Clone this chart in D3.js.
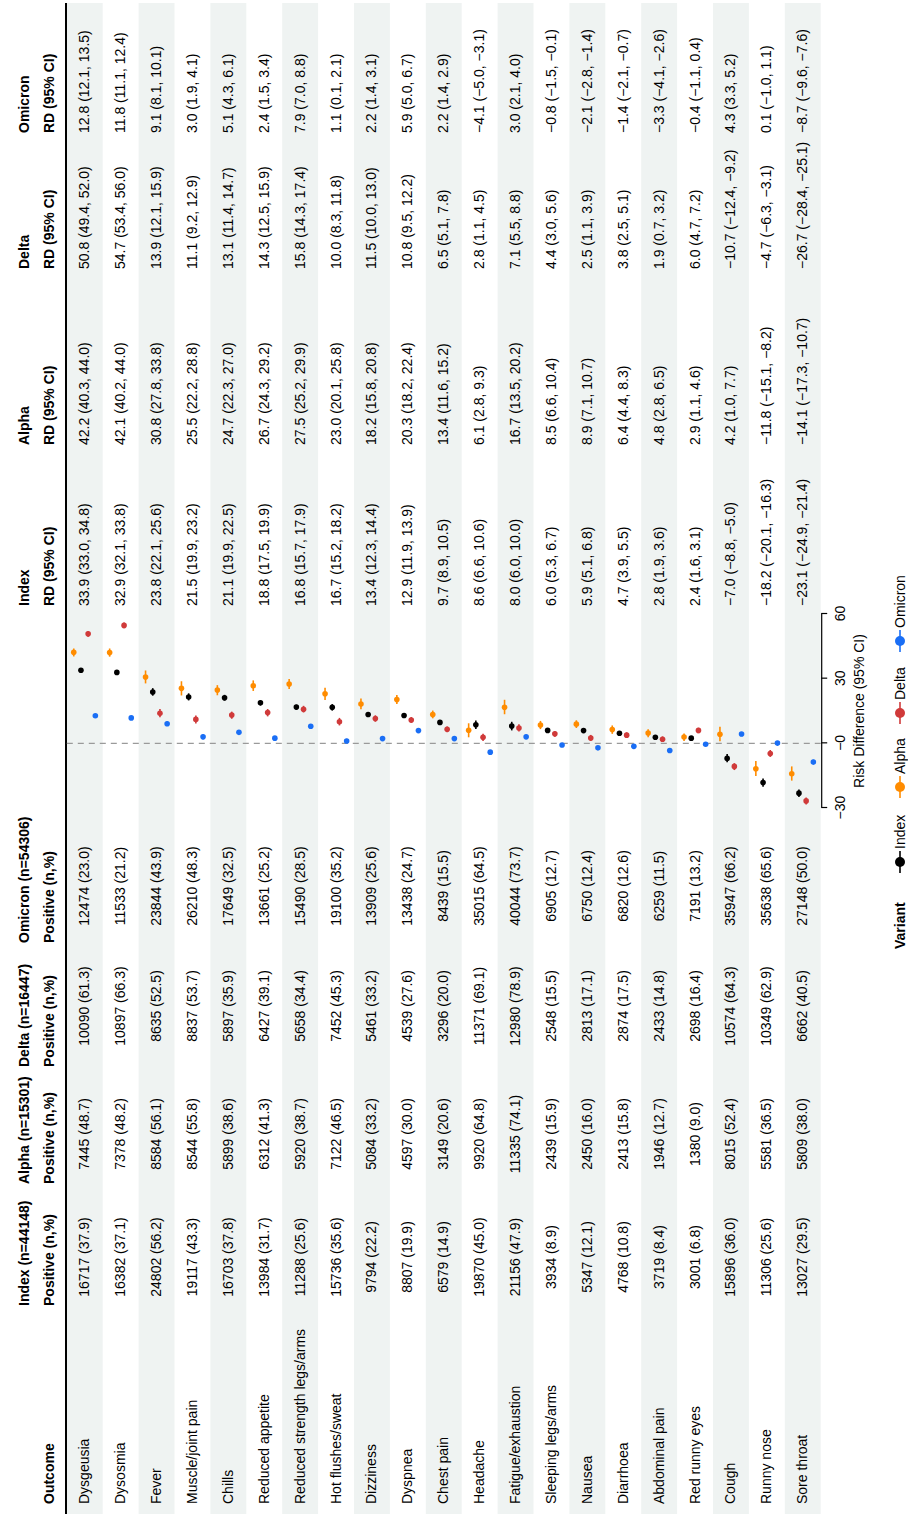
<!DOCTYPE html>
<html>
<head>
<meta charset="utf-8">
<script src="https://cdn.jsdelivr.net/npm/d3@7"></script>
<style>
  html, body { margin: 0; padding: 0; background: #fff; }
  svg { display: block; font-family: "Liberation Sans", Arial, Helvetica, sans-serif; }
</style>
</head>
<body>
<div id="chart"></div>
<script>
// ---- data ----
const outcomes = ["Dysgeusia", "Dysosmia", "Fever", "Muscle/joint pain", "Chills", "Reduced appetite",
  "Reduced strength legs/arms", "Hot flushes/sweat", "Dizziness", "Dyspnea", "Chest pain", "Headache",
  "Fatigue/exhaustion", "Sleeping legs/arms", "Nausea", "Diarrhoea", "Abdominal pain", "Red runny eyes",
  "Cough", "Runny nose", "Sore throat"];

const variants = ["Index", "Alpha", "Delta", "Omicron"];
const sampleSizes = [44148, 15301, 16447, 54306];

const indexN   = [16717, 16382, 24802, 19117, 16703, 13984, 11288, 15736, 9794, 8807, 6579, 19870, 21156, 3934, 5347, 4768, 3719, 3001, 15896, 11306, 13027];
const indexPct = [37.9, 37.1, 56.2, 43.3, 37.8, 31.7, 25.6, 35.6, 22.2, 19.9, 14.9, 45.0, 47.9, 8.9, 12.1, 10.8, 8.4, 6.8, 36.0, 25.6, 29.5];
const alphaN   = [7445, 7378, 8584, 8544, 5899, 6312, 5920, 7122, 5084, 4597, 3149, 9920, 11335, 2439, 2450, 2413, 1946, 1380, 8015, 5581, 5809];
const alphaPct = [48.7, 48.2, 56.1, 55.8, 38.6, 41.3, 38.7, 46.5, 33.2, 30.0, 20.6, 64.8, 74.1, 15.9, 16.0, 15.8, 12.7, 9.0, 52.4, 36.5, 38.0];
const deltaN   = [10090, 10897, 8635, 8837, 5897, 6427, 5658, 7452, 5461, 4539, 3296, 11371, 12980, 2548, 2813, 2874, 2433, 2698, 10574, 10349, 6662];
const deltaPct = [61.3, 66.3, 52.5, 53.7, 35.9, 39.1, 34.4, 45.3, 33.2, 27.6, 20.0, 69.1, 78.9, 15.5, 17.1, 17.5, 14.8, 16.4, 64.3, 62.9, 40.5];
const omicronN   = [12474, 11533, 23844, 26210, 17649, 13661, 15490, 19100, 13909, 13438, 8439, 35015, 40044, 6905, 6750, 6820, 6259, 7191, 35947, 35638, 27148];
const omicronPct = [23.0, 21.2, 43.9, 48.3, 32.5, 25.2, 28.5, 35.2, 25.6, 24.7, 15.5, 64.5, 73.7, 12.7, 12.4, 12.6, 11.5, 13.2, 66.2, 65.6, 50.0];

// risk difference: [estimate, lower, upper]
const indexRD = [[33.9, 33.0, 34.8], [32.9, 32.1, 33.8], [23.8, 22.1, 25.6], [21.5, 19.9, 23.2], [21.1, 19.9, 22.5],
  [18.8, 17.5, 19.9], [16.8, 15.7, 17.9], [16.7, 15.2, 18.2], [13.4, 12.3, 14.4], [12.9, 11.9, 13.9], [9.7, 8.9, 10.5],
  [8.6, 6.6, 10.6], [8.0, 6.0, 10.0], [6.0, 5.3, 6.7], [5.9, 5.1, 6.8], [4.7, 3.9, 5.5], [2.8, 1.9, 3.6], [2.4, 1.6, 3.1],
  [-7.0, -8.8, -5.0], [-18.2, -20.1, -16.3], [-23.1, -24.9, -21.4]];
const alphaRD = [[42.2, 40.3, 44.0], [42.1, 40.2, 44.0], [30.8, 27.8, 33.8], [25.5, 22.2, 28.8], [24.7, 22.3, 27.0],
  [26.7, 24.3, 29.2], [27.5, 25.2, 29.9], [23.0, 20.1, 25.8], [18.2, 15.8, 20.8], [20.3, 18.2, 22.4], [13.4, 11.6, 15.2],
  [6.1, 2.8, 9.3], [16.7, 13.5, 20.2], [8.5, 6.6, 10.4], [8.9, 7.1, 10.7], [6.4, 4.4, 8.3], [4.8, 2.8, 6.5], [2.9, 1.1, 4.6],
  [4.2, 1.0, 7.7], [-11.8, -15.1, -8.2], [-14.1, -17.3, -10.7]];
const deltaRD = [[50.8, 49.4, 52.0], [54.7, 53.4, 56.0], [13.9, 12.1, 15.9], [11.1, 9.2, 12.9], [13.1, 11.4, 14.7],
  [14.3, 12.5, 15.9], [15.8, 14.3, 17.4], [10.0, 8.3, 11.8], [11.5, 10.0, 13.0], [10.8, 9.5, 12.2], [6.5, 5.1, 7.8],
  [2.8, 1.1, 4.5], [7.1, 5.5, 8.8], [4.4, 3.0, 5.6], [2.5, 1.1, 3.9], [3.8, 2.5, 5.1], [1.9, 0.7, 3.2], [6.0, 4.7, 7.2],
  [-10.7, -12.4, -9.2], [-4.7, -6.3, -3.1], [-26.7, -28.4, -25.1]];
const omicronRD = [[12.8, 12.1, 13.5], [11.8, 11.1, 12.4], [9.1, 8.1, 10.1], [3.0, 1.9, 4.1], [5.1, 4.3, 6.1],
  [2.4, 1.5, 3.4], [7.9, 7.0, 8.8], [1.1, 0.1, 2.1], [2.2, 1.4, 3.1], [5.9, 5.0, 6.7], [2.2, 1.4, 2.9],
  [-4.1, -5.0, -3.1], [3.0, 2.1, 4.0], [-0.8, -1.5, -0.1], [-2.1, -2.8, -1.4], [-1.4, -2.1, -0.7], [-3.3, -4.1, -2.6],
  [-0.4, -1.1, 0.4], [4.3, 3.3, 5.2], [0.1, -1.0, 1.1], [-8.7, -9.6, -7.6]];

const xTicks = [-30, 0, 30, 60];
const xTickLabels = ["\u221230", "\u22120", "30", "60"];

// ---- layout (drawn in landscape, then turned a quarter turn) ----
const W = 1514, H = 908;
const fontSize = 14;
const colors = { Index: "#000000", Alpha: "#ff8c00", Delta: "#d03a3a", Omicron: "#1a6ef5" };
const bandFill = "#eff3f2";

const posCounts = [indexN, alphaN, deltaN, omicronN];
const posPcts = [indexPct, alphaPct, deltaPct, omicronPct];
const rdData = [indexRD, alphaRD, deltaRD, omicronRD];

const posHeadX = [208, 330, 447, 571];
const posDataX = [257, 380, 508, 628];
const rdX = [908, 1069, 1245, 1381];

const f1 = d3.format(".1f");
const fmtRD = d => `${f1(d[0])} (${f1(d[1])}, ${f1(d[2])})`;
const fmtPos = (n, p) => `${n} (${f1(p)})`;

const svg = d3.select("#chart").append("svg")
  .attr("width", H)
  .attr("height", W);

const g = svg.append("g")
  .attr("transform", `translate(0,${W}) rotate(-90)`)
  .attr("font-size", fontSize)
  .attr("fill", "#000");

const y = d3.scaleBand()
  .domain(outcomes)
  .range([66.8, 66.8 + 35.9 * outcomes.length]);

const x = d3.scaleLinear().domain([-30, 60]).range([706, 900]);

// order of points inside a row, top to bottom
const nudge = d3.scalePoint()
  .domain(["Alpha", "Index", "Delta", "Omicron"])
  .range([-11, 10.6]);

// row shading
g.append("g").selectAll("rect")
  .data(outcomes.filter((d, i) => i % 2 === 0))
  .join("rect")
  .attr("x", 0)
  .attr("width", 1511)
  .attr("y", d => y(d))
  .attr("height", y.bandwidth())
  .attr("fill", bandFill);

// header
const head = g.append("g").attr("font-weight", "bold").attr("font-size", 14);
head.append("text").attr("x", 10).attr("y", 54).text("Outcome");
variants.forEach((v, i) => {
  head.append("text").attr("x", posHeadX[i]).attr("y", 29).text(`${v} (n=${sampleSizes[i]})`);
  head.append("text").attr("x", posHeadX[i]).attr("y", 54).text("Positive (n,%)");
  head.append("text").attr("x", rdX[i]).attr("y", 29).text(v);
  head.append("text").attr("x", rdX[i]).attr("y", 54).text("RD (95% CI)");
});

g.append("line")
  .attr("x1", 0).attr("x2", 1511)
  .attr("y1", 66).attr("y2", 66)
  .attr("stroke", "#000")
  .attr("stroke-width", 2);

// body text
const rows = g.append("g").selectAll("g")
  .data(outcomes)
  .join("g")
  .attr("transform", d => `translate(0,${y(d) + y.bandwidth() / 2 + 4.5})`);

rows.append("text").attr("x", 10).text(d => d);

variants.forEach((v, k) => {
  rows.append("text")
    .attr("x", posDataX[k])
    .attr("text-anchor", "middle")
    .text((d, i) => fmtPos(posCounts[k][i], posPcts[k][i]));
  rows.append("text")
    .attr("x", rdX[k])
    .text((d, i) => fmtRD(rdData[k][i]));
});

// reference line
g.append("line")
  .attr("x1", x(0)).attr("x2", x(0))
  .attr("y1", y.range()[0]).attr("y2", y.range()[1])
  .attr("stroke", "#9a9a9a")
  .attr("stroke-width", 1.4)
  .attr("stroke-dasharray", "6,5");

// intervals and points
variants.forEach((v, k) => {
  const grp = g.append("g").attr("fill", colors[v]).attr("stroke", colors[v]);
  const pts = outcomes.map((o, i) => ({ o, d: rdData[k][i] }));
  const cy = p => y(p.o) + y.bandwidth() / 2 + nudge(v);
  grp.selectAll("line")
    .data(pts)
    .join("line")
    .attr("x1", p => x(p.d[1]))
    .attr("x2", p => x(p.d[2]))
    .attr("y1", cy)
    .attr("y2", cy)
    .attr("stroke-width", 1.6);
  grp.selectAll("circle")
    .data(pts)
    .join("circle")
    .attr("cx", p => x(p.d[0]))
    .attr("cy", cy)
    .attr("r", 2.8)
    .attr("stroke", "none");
});

// x axis
const axisY = y.range()[1] + 0.5;
const axisG = g.append("g")
  .attr("transform", `translate(0,${axisY})`)
  .call(d3.axisBottom(x)
    .tickValues(xTicks)
    .tickFormat((d, i) => xTickLabels[i])
    .tickSize(6)
    .tickSizeOuter(0)
    .tickPadding(8));
axisG.selectAll("text")
  .attr("font-size", fontSize)
  .attr("font-family", "Liberation Sans, Arial, sans-serif");
axisG.select(".domain").attr("stroke-width", 1.2);
axisG.selectAll(".tick line").attr("stroke-width", 1.2);

g.append("text")
  .attr("x", (x.range()[0] + x.range()[1]) / 2)
  .attr("y", 864)
  .attr("text-anchor", "middle")
  .text("Risk Difference (95% CI)");

// legend
const legend = g.append("g").attr("transform", "translate(0,900)");
legend.append("text")
  .attr("x", 565)
  .attr("y", 5)
  .attr("font-weight", "bold")
  .text("Variant");

const keyX = [652, 727, 801, 873];
variants.forEach((v, i) => {
  const k = legend.append("g").attr("transform", `translate(${keyX[i]},0)`);
  k.append("line")
    .attr("x1", -11).attr("x2", 11)
    .attr("stroke", colors[v])
    .attr("stroke-width", 1.6);
  k.append("circle").attr("r", 5).attr("fill", colors[v]);
  k.append("text").attr("x", 13).attr("y", 5).text(v);
});
</script>
</body>
</html>
